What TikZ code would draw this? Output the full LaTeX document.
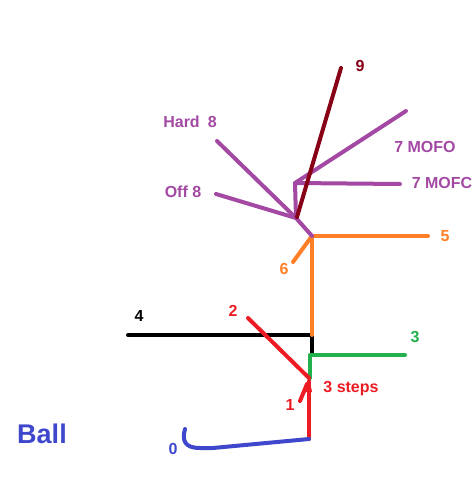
\documentclass[tikz,border=0pt]{standalone}
\usepackage{fontspec}
\setmainfont{Liberation Sans}
\definecolor{pur}{HTML}{A349A4}
\definecolor{dred}{HTML}{880015}
\definecolor{orng}{HTML}{FF7F27}
\definecolor{rd}{HTML}{ED1C24}
\definecolor{grn}{HTML}{22B14C}
\definecolor{blu}{HTML}{3F48CC}
\tikzset{
  stroke/.style={line width=4pt, line cap=round, line join=round},
  lbl/.style={font=\fontsize{16}{16}\selectfont\bfseries, inner sep=0pt},
}
\begin{document}
\begin{tikzpicture}[x=1pt,y=-1pt]
\path[use as bounding box, fill=white] (0,0) rectangle (474,496);
% points
\coordinate (b0) at (185,429);
\coordinate (b1) at (213,448);
\coordinate (r0) at (309,439);
\coordinate (r1) at (309,381);
\coordinate (r2) at (248,318);
\coordinate (r3) at (309,378);
\coordinate (t1) at (300,401);
\coordinate (t2) at (307,384);
\coordinate (g0) at (310,378);
\coordinate (g1) at (310,355);
\coordinate (g2) at (405,355);
\coordinate (k0) at (128,335);
\coordinate (k1) at (312,335);
\coordinate (k2) at (312,353);
\coordinate (o0) at (312,236);
\coordinate (o1) at (428,236);
\coordinate (o6) at (293,262);
\coordinate (p0) at (296,218);
\coordinate (h8) at (217,141);
\coordinate (f8) at (216,194);
\coordinate (p1) at (295,183);
\coordinate (mc) at (400,184);
\coordinate (mo) at (406,111);
\coordinate (n0) at (297,217);
\coordinate (n9) at (341,68);
% lines
\draw[stroke, black] (k0) -- (k1) -- (k2);
\draw[stroke, grn] (g0) -- (g1) -- (g2);
\draw[stroke, orng] (k1) -- (o0) -- (o1);
\draw[stroke, orng] (o6) -- (o0);
\draw[stroke, rd] (r0) -- (r1);
\draw[stroke, rd] (r2) -- (r3);
\draw[stroke, rd] (t1) -- (t2);
\fill[rd] (305,392) -- (309,377) -- (312,392) -- cycle;
\draw[stroke, blu] (b0) .. controls (182,440) and (184,448) .. (200,448) -- (b1) -- (r0);
\draw[stroke, pur] (o0) -- (p0) -- (h8);
\draw[stroke, pur] (p0) -- (f8);
\draw[stroke, pur] (p0) -- (p1) -- (mc);
\draw[stroke, pur] (p1) -- (mo);
\draw[stroke, dred] (n0) -- (n9);
% labels
\node[lbl, text=dred] (l9) at (360,66) {9};
\node[lbl, text=pur] (lh8) at (190,122) {Hard\hspace{0.5em}8};
\node[lbl, text=pur] (lmo) at (425,147) {7 MOFO};
\node[lbl, text=pur] (lmc) at (442,183) {7 MOFC};
\node[lbl, text=pur] (lo8) at (183,192) {Off 8};
\node[lbl, text=orng] (l5) at (445,236) {5};
\node[lbl, text=orng] (l6) at (284,269) {6};
\node[lbl, text=black] (l4) at (139,316) {4};
\node[lbl, text=rd] (l2) at (233,311) {2};
\node[lbl, text=grn] (l3) at (415,337) {3};
\node[lbl, text=rd, anchor=base] (ls) at (351,392) {3 steps};
\node[lbl, text=rd] (l1) at (290,405) {1};
\node[lbl, text=blu] (l0) at (173,449) {0};
\node[lbl, text=blu, font=\fontsize{27}{27}\selectfont\bfseries] (lb) at (42,434) {Ball};
\end{tikzpicture}
\end{document}
